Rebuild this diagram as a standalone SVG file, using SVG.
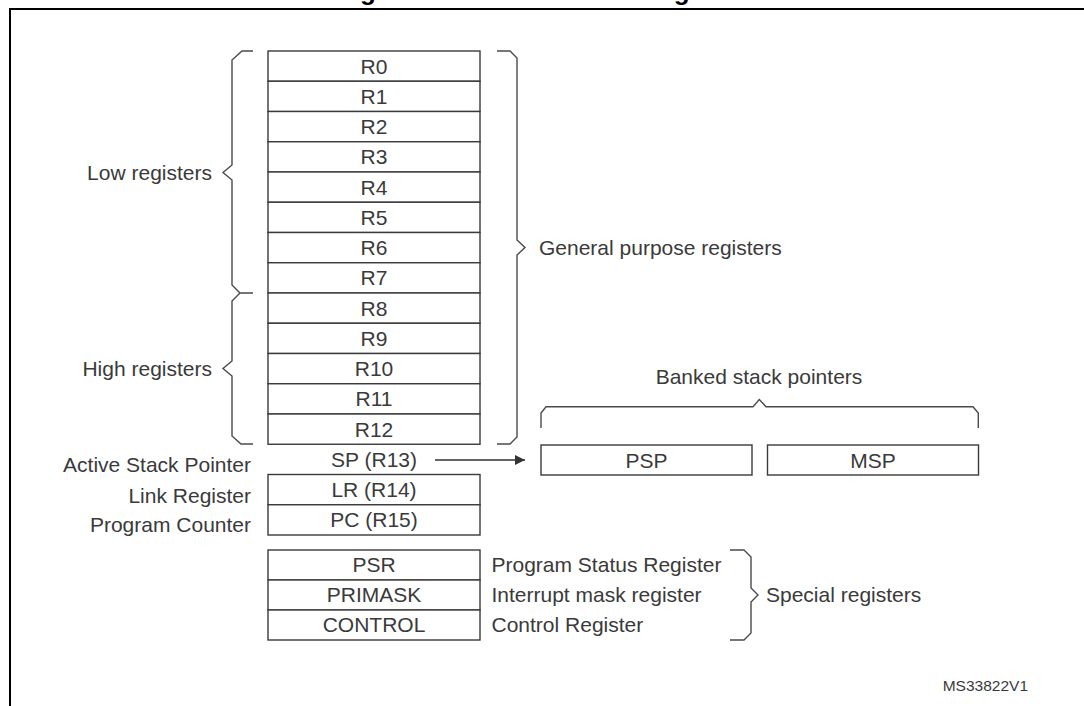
<svg xmlns="http://www.w3.org/2000/svg" width="1084" height="706" viewBox="0 0 1084 706">
<defs>
<style>
.t{font-family:"Liberation Sans",Arial,sans-serif;font-size:21px;fill:#3a3a3a}
.c{text-anchor:middle}
.e{text-anchor:end}
.b{fill:#fff;stroke:#3a3a3a;stroke-width:1.4}
.br{fill:none;stroke:#4a4a4a;stroke-width:1.4}
</style>
<marker id="ah" viewBox="0 0 10 10" refX="10" refY="5" markerWidth="10" markerHeight="10" markerUnits="userSpaceOnUse" orient="auto">
<path d="M0,0 L10,5 L0,10 z" fill="#333"/>
</marker>
</defs>
<rect width="1084" height="706" fill="#fff"/>
<text x="548" y="0" style="font-family:'Liberation Sans',Arial,sans-serif;font-size:26px;font-weight:bold;fill:#000;text-anchor:middle">Figure 2. Processor core registers</text>
<path d="M9,9 H1090 M10,9 V712" fill="none" stroke="#000" stroke-width="2"/>

<g id="R0"><rect class="b" x="268" y="51" width="212" height="30.25"/><text class="t c" x="374" y="73.5">R0</text></g>
<g id="R1"><rect class="b" x="268" y="81.25" width="212" height="30.25"/><text class="t c" x="374" y="103.75">R1</text></g>
<g id="R2"><rect class="b" x="268" y="111.5" width="212" height="30.25"/><text class="t c" x="374" y="134">R2</text></g>
<g id="R3"><rect class="b" x="268" y="141.75" width="212" height="30.25"/><text class="t c" x="374" y="164.25">R3</text></g>
<g id="R4"><rect class="b" x="268" y="172" width="212" height="30.25"/><text class="t c" x="374" y="194.5">R4</text></g>
<g id="R5"><rect class="b" x="268" y="202.25" width="212" height="30.25"/><text class="t c" x="374" y="224.75">R5</text></g>
<g id="R6"><rect class="b" x="268" y="232.5" width="212" height="30.25"/><text class="t c" x="374" y="255">R6</text></g>
<g id="R7"><rect class="b" x="268" y="262.75" width="212" height="30.25"/><text class="t c" x="374" y="285.25">R7</text></g>
<g id="R8"><rect class="b" x="268" y="293" width="212" height="30.25"/><text class="t c" x="374" y="315.5">R8</text></g>
<g id="R9"><rect class="b" x="268" y="323.25" width="212" height="30.25"/><text class="t c" x="374" y="345.75">R9</text></g>
<g id="R10"><rect class="b" x="268" y="353.5" width="212" height="30.25"/><text class="t c" x="374" y="376">R10</text></g>
<g id="R11"><rect class="b" x="268" y="383.75" width="212" height="30.25"/><text class="t c" x="374" y="406.25">R11</text></g>
<g id="R12"><rect class="b" x="268" y="414" width="212" height="30.25"/><text class="t c" x="374" y="436.5">R12</text></g>
<g id="SP"><text class="t c" x="374" y="466.5">SP (R13)</text></g>
<g id="LR"><rect class="b" x="268" y="474.5" width="212" height="30.25"/><text class="t c" x="374" y="497">LR (R14)</text></g>
<g id="PC"><rect class="b" x="268" y="504.75" width="212" height="30.25"/><text class="t c" x="374" y="527.25">PC (R15)</text></g>

<g id="PSR"><rect class="b" x="268" y="550" width="212" height="30"/><text class="t c" x="374" y="572.3">PSR</text></g>
<g id="PRIMASK"><rect class="b" x="268" y="580" width="212" height="30"/><text class="t c" x="374" y="602.3">PRIMASK</text></g>
<g id="CONTROL"><rect class="b" x="268" y="610" width="212" height="30"/><text class="t c" x="374" y="632.3">CONTROL</text></g>

<g id="PSP"><rect class="b" x="541" y="445" width="211" height="30"/><text class="t c" x="646.5" y="467.5">PSP</text></g>
<g id="MSP"><rect class="b" x="767.5" y="445" width="211" height="30"/><text class="t c" x="873" y="467.5">MSP</text></g>

<g id="labels">
<text class="t e" x="212" y="180">Low registers</text>
<text class="t e" x="212" y="375.5">High registers</text>
<text class="t e" x="251" y="472">Active Stack Pointer</text>
<text class="t e" x="251" y="502.5">Link Register</text>
<text class="t e" x="251" y="532">Program Counter</text>
<text class="t" x="539" y="254.5">General purpose registers</text>
<text class="t c" x="759" y="384">Banked stack pointers</text>
<text class="t" x="491.5" y="572">Program Status Register</text>
<text class="t" x="491.5" y="602">Interrupt mask register</text>
<text class="t" x="491.5" y="632">Control Register</text>
<text class="t" x="766" y="602">Special registers</text>
<text x="1028" y="690.5" style="font-family:'Liberation Sans',Arial,sans-serif;font-size:15.5px;fill:#3a3a3a;text-anchor:end">MS33822V1</text>
</g>

<g id="braces">
<path class="br" d="M253,51 H242 L232,60 V165 L223,172.5 L232,180 V285 L240,293 H253 M240,293 L232,301 V361 L223,368.5 L232,376 V436 L241,444 H253"/>
<path class="br" d="M497,51 H510 L517,58 V240 L525,247.5 L517,255 V437 L510,444 H497"/>
<path class="br" d="M541,428 V413 L546,406.7 H753 L759.3,399.5 L766,406.7 H973 L978.3,413 V428"/>
<path class="br" d="M730,550 H744 L751,557 V588 L758,595 L751,602 V633 L744,640 H730"/>
</g>

<g id="connectors">
<line x1="435" y1="460" x2="525" y2="460" stroke="#333" stroke-width="1.4" marker-end="url(#ah)"/>
</g>
</svg>
